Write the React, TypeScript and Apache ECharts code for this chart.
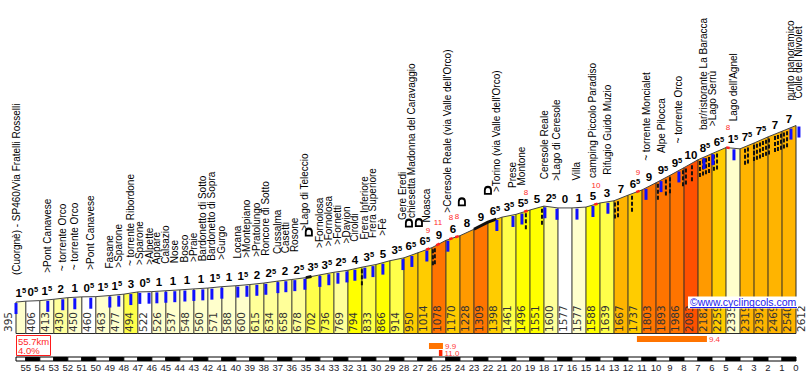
import React, { useEffect, useRef } from "react";
import * as echarts from "echarts";

// ---- DATA ----
const kmPoints = [55.7, 55, 54, 53, 52, 51, 50, 49, 48, 47, 46, 45, 44, 43, 42, 41, 40, 39, 38, 37, 36, 35, 34, 33, 32, 31, 30, 29, 28, 27, 26, 25, 24, 23, 22, 21, 20, 19, 18, 17, 16, 15, 14, 13, 12, 11, 10, 9, 8, 7, 6, 5, 4, 3, 2, 1, 0];
const altitudes = [395, 406, 413, 430, 450, 460, 463, 477, 494, 522, 526, 537, 548, 560, 571, 588, 600, 615, 634, 658, 678, 702, 736, 769, 794, 833, 866, 914, 950, 1014, 1078, 1170, 1228, 1309, 1398, 1461, 1496, 1551, 1600, 1577, 1577, 1588, 1639, 1667, 1737, 1803, 1893, 1986, 2083, 2182, 2259, 2335, 2319, 2392, 2469, 2540, 2612];
const gradientLabels = [1.5, 0.5, 1.5, 2, 1, 0.5, 1.5, 1.5, 3, 0.5, 1, 1, 1, 1, 1.5, 1, 1.5, 2, 2.5, 2, 2.5, 3.5, 3.5, 2.5, 4, 3.5, 5, 3.5, 6.5, 6.5, 9, 6, 8, 9, 6.5, 3.5, 5.5, 5, 2.5, 0, 1, 5, 3, 7, 6.5, 9, 9.5, 9.5, 10, 8.5, 6.5, 1.5, 7.5, 7.5, 7, 7];

const placeNames = [
  "(Cuorgnè) - SP460/Via Fratelli Rosselli", ">Pont Canavese", "~ torrente Orco", "~ torrente Orco", ">Pont Canavese",
  "Fasane", ">Sparone", "~ torrente Ribordone", ">Sparone", ">Alpette", "Appare", "Calsazio", "Nose", "Bosco", ">Praie",
  "Bardonetto di Sotto", "Bardonetto di Sopra", ">Gurgo", "Locana", ">Montepiano", ">Pratolungo", "Roncore di Sotto",
  "Cussalma", "Casetti", "Rosone", ">Lago di Teleccio", ">Fornolosa", ">Fornolosa", ">Fornetti", ">Davion", "Ciroldi",
  "Frera Inferiore", "Frera Superiore", ">Fè", "Gere Eredi", "chiesetta Madonna del Caravaggio", "Noasca",
  ">Ceresole Reale (via Valle dell'Orco)", ">Torino (via Valle dell'Orco)", "Prese", "Montone", "Ceresole Reale",
  ">Lago di Ceresole", "Villa", "camping Piccolo Paradiso", "Rifugio Guido Muzio", "~ torrente Moncialet", "Alpe Pilocca",
  "~ torrente Orco", "bar/ristorante La Baracca", ">Lago Serrù", "Lago dell'Agnel", "punto panoramico", "Colle del Nivolet",
];
const placeKm = [
  55.7, 53.43, 52.36, 51.5, 50.36, 49.0, 48.36, 47.5, 46.86, 46.2, 45.64, 45.0, 44.36, 43.64, 43.0, 42.36, 41.71, 41.0,
  39.86, 39.21, 38.5, 37.86, 37.0, 36.43, 35.79, 35.07, 34.0, 33.36, 32.71, 32.07, 31.5, 30.79, 30.21, 29.5, 28.07, 27.43,
  26.36, 24.86, 21.36, 20.21, 19.57, 17.93, 17.07, 15.64, 14.5, 13.43, 10.71, 9.64, 8.36, 6.57, 5.93, 4.43, 0.36, -0.21,
];

const hairpinKm = [31.0, 25.93, 25.79, 19.29, 18.14, 12.93, 12.71, 11.71, 9.86, 9.29, 9.0, 8.07, 7.86, 7.43, 6.86, 6.64, 6.43, 6.21, 5.86, 5.64, 3.64, 3.43, 3.0, 2.79, 2.57, 2.36, 2.14, 1.93, 1.5, 1.29, 1.07, 0.86, 0.64];
const tunnelFrom = [35.0, 23.0];
const tunnelTo = [34.6, 21.4];
const tunnelIconKm = [34.79, 27.64, 26.93, 23.86, 22.0];

const redMaxKm = [26.29, 25.57, 24.64, 24.21, 19.29, 14.29, 11.29, 4.86];
const redMaxValue = [9, 11, 8, 8, 8, 10, 9, 8];

const steepFrom = [11.36, 26.21, 25.5];
const steepTo = [6.36, 25.21, 25.25];
const steepValue = [9.4, 9.9, 11.0];

// ---- STYLE HELPERS ----
const tunnelIconLift = [45, 33, 30, 33, 32];
const redLift = [19, 22, 21, 20, 19, 19, 19, 20];
const nameLift = (n: string) =>
  n === ">Lago di Teleccio" ? 47 : n === "Gere Eredi" ? 38 : n.startsWith("chiesetta") ? 37 : 27;

function colorFor(g: number) {
  if (g < 1) return "#ffffff";
  if (g < 2) return "#ffffcc";
  if (g < 3) return "#ffff99";
  if (g < 4) return "#ffff4a";
  if (g < 6) return "#ffff00";
  if (g < 7) return "#ffcc00";
  if (g < 8) return "#ffb400";
  if (g < 9) return "#ff9a00";
  if (g < 10) return "#ff7400";
  return "#ff5000";
}

function altAt(km: number) {
  if (km >= kmPoints[0]) return altitudes[0];
  for (let i = 0; i < kmPoints.length - 1; i++) {
    const a = kmPoints[i], b = kmPoints[i + 1];
    if (km <= a && km >= b) {
      const t = (a - km) / (a - b);
      return altitudes[i] + t * (altitudes[i + 1] - altitudes[i]);
    }
  }
  return altitudes[altitudes.length - 1];
}

function gradText(g: number) {
  const w = Math.floor(g);
  return g - w >= 0.5 ? `{n|${w}}{s|5}` : `{n|${w}}`;
}

const FONT = "Liberation Sans";

function buildOption(): any {
  const segData = gradientLabels.map((g, i) => [kmPoints[i], kmPoints[i + 1], altitudes[i], altitudes[i + 1], g]);
  const last = segData.length - 1;
  const dist = kmPoints[0] - kmPoints[kmPoints.length - 1];
  const avg = ((altitudes[altitudes.length - 1] - altitudes[0]) / (dist * 1000)) * 100;

  const series: any[] = [];

  // segments
  series.push({
    type: "custom",
    data: segData,
    renderItem: (params: any, api: any) => {
      const k0 = api.value(0), k1 = api.value(1), a0 = api.value(2), a1 = api.value(3), g = api.value(4);
      const b0 = api.coord([k0, 0]), t0 = api.coord([k0, a0]), t1 = api.coord([k1, a1]), b1 = api.coord([k1, 0]);
      const children: any[] = [
        { type: "polygon", shape: { points: [b0, t0, t1, b1] }, style: { fill: colorFor(g) } },
        { type: "line", shape: { x1: b0[0], y1: b0[1], x2: t0[0], y2: t0[1] }, style: { stroke: "#2a2a2a", lineWidth: 1 } },
        { type: "line", shape: { x1: t0[0], y1: t0[1], x2: t1[0], y2: t1[1] }, style: { stroke: "#444", lineWidth: 1 } },
        { type: "line", shape: { x1: b0[0], y1: b0[1], x2: b1[0], y2: b1[1] }, style: { stroke: "#2a2a2a", lineWidth: 1 } },
      ];
      if (params.dataIndex === last) {
        children.push({ type: "line", shape: { x1: b1[0], y1: b1[1], x2: t1[0], y2: t1[1] }, style: { stroke: "#2a2a2a", lineWidth: 1 } });
      }
      return { type: "group", children };
    },
  });

  // hairpins
  series.push({
    type: "custom",
    data: hairpinKm.map((k) => [k]),
    renderItem: (params: any, api: any) => {
      const k = api.value(0);
      const p = api.coord([k, altAt(k)]);
      return { type: "line", shape: { x1: p[0], y1: p[1] + 2, x2: p[0], y2: p[1] + 20 }, style: { stroke: "#111", lineWidth: 2, lineDash: [4, 2] } };
    },
  });

  // tunnels on profile
  series.push({
    type: "custom",
    data: tunnelFrom.map((f, i) => [f, tunnelTo[i]]),
    renderItem: (params: any, api: any) => {
      const a = api.value(0), b = api.value(1);
      const pts: number[][] = [api.coord([a, altAt(a)])];
      kmPoints.forEach((k) => { if (k < a && k > b) pts.push(api.coord([k, altAt(k)])); });
      pts.push(api.coord([b, altAt(b)]));
      return { type: "polyline", shape: { points: pts }, style: { stroke: "#111", lineWidth: 3, fill: null } };
    },
  });

  // blue ticks + place names
  series.push({
    type: "custom",
    data: placeKm.map((k, i) => [k, i]),
    renderItem: (params: any, api: any) => {
      const k = api.value(0);
      const name = placeNames[params.dataIndex];
      const p = api.coord([k, altAt(Math.max(k, 0))]);
      return {
        type: "group",
        children: [
          { type: "line", shape: { x1: p[0], y1: p[1] + 1, x2: p[0], y2: p[1] + 12 }, style: { stroke: "#1010ff", lineWidth: 3 } },
          {
            type: "text", x: p[0], y: p[1] - nameLift(name), rotation: Math.PI / 2,
            style: { text: name, fill: "#000", fontSize: 10, fontFamily: FONT, align: "left", verticalAlign: "middle" },
          },
        ],
      };
    },
  });

  // red max markers
  series.push({
    type: "custom",
    data: redMaxKm.map((k, i) => [k, redMaxValue[i]]),
    renderItem: (params: any, api: any) => {
      const k = api.value(0), v = api.value(1);
      const pa = api.coord([k + 0.12, altAt(k + 0.12)]);
      const pb = api.coord([k - 0.12, altAt(k - 0.12)]);
      const p = api.coord([k, altAt(k)]);
      return {
        type: "group",
        children: [
          { type: "line", shape: { x1: pa[0], y1: pa[1], x2: pb[0], y2: pb[1] }, style: { stroke: "#ff2020", lineWidth: 2.5 } },
          {
            type: "text", x: p[0], y: p[1] - redLift[params.dataIndex],
            style: { text: String(v), fill: "#ff2a2a", fontSize: 8, fontFamily: FONT, align: "center", verticalAlign: "middle" },
          },
        ],
      };
    },
  });

  // tunnel icons
  series.push({
    type: "custom",
    data: tunnelIconKm.map((k) => [k]),
    renderItem: (params: any, api: any) => {
      const k = api.value(0);
      const p = api.coord([k, altAt(k)]);
      const cy = p[1] - tunnelIconLift[params.dataIndex];
      return {
        type: "path",
        shape: {
          pathData: "M0 9V4.5A4 4 0 0 1 8 4.5V9ZM1.8 7.4H6.2V4.8A2.2 2.2 0 0 0 1.8 4.8Z",
          x: p[0] - 4, y: cy - 4.5, width: 8, height: 9, layout: "cover",
        },
        style: { fill: "#000" },
      };
    },
  });

  // gradient labels
  series.push({
    type: "custom",
    data: segData,
    renderItem: (params: any, api: any) => {
      const k0 = api.value(0), k1 = api.value(1), a0 = api.value(2), a1 = api.value(3), g = api.value(4);
      const m = api.coord([(k0 + k1) / 2, (a0 + a1) / 2]);
      return {
        type: "text", x: m[0], y: m[1] - 3,
        style: {
          text: gradText(g), align: "center", verticalAlign: "bottom", fill: "#000",
          rich: {
            n: { fontSize: 11.5, fontWeight: "bold", fontFamily: FONT, fill: "#000", verticalAlign: "bottom" },
            s: { fontSize: 7.5, fontWeight: "bold", fontFamily: FONT, fill: "#000", verticalAlign: "top" },
          },
        },
      };
    },
  });

  // altitude labels
  series.push({
    type: "custom",
    data: altitudes.map((a, i) => [kmPoints[i], a]),
    renderItem: (params: any, api: any) => {
      const k = api.value(0), a = api.value(1);
      const p = api.coord([k, 0]);
      const dx = params.dataIndex === 0 ? -8 : 5;
      return {
        type: "text", x: p[0] + dx, y: p[1] - 1.5, rotation: Math.PI / 2,
        style: { text: String(a), fill: "#333", fontSize: 10.5, fontFamily: "DejaVu Sans", align: "left", verticalAlign: "middle" },
      };
    },
  });

  // km ruler
  series.push({
    type: "custom",
    data: segData.map((s, i) => [s[0], s[1], i]),
    renderItem: (params: any, api: any) => {
      const a = api.coord([api.value(0), 0]), b = api.coord([api.value(1), 0]);
      const odd = api.value(2) % 2 === 1;
      return {
        type: "rect",
        shape: { x: a[0], y: a[1] + 23.5, width: b[0] - a[0], height: 4 },
        style: { fill: odd ? "#000" : "#fff", stroke: "#000", lineWidth: 1 },
      };
    },
  });

  // steepest sections
  series.push({
    type: "custom",
    data: steepFrom.map((f, i) => [f, steepTo[i], steepValue[i], i]),
    renderItem: (params: any, api: any) => {
      const a = api.coord([api.value(0), 0]), b = api.coord([api.value(1), 0]);
      const v = api.value(2), row = api.value(3);
      const y = a[1] + 2.5 + row * 7;
      return {
        type: "group",
        children: [
          { type: "rect", shape: { x: a[0], y, width: b[0] - a[0], height: 6 }, style: { fill: v >= 11 ? "#ff2200" : "#ff7400" } },
          { type: "text", x: b[0] + 2, y: y + 3, style: { text: v.toFixed(1), fill: "#ff3a3a", fontSize: 8, fontFamily: FONT, align: "left", verticalAlign: "middle" } },
        ],
      };
    },
  });

  return {
    animation: false,
    backgroundColor: "#fff",
    grid: { left: 16, right: 14, top: 15, bottom: 40.5 },
    xAxis: {
      type: "value", min: 0, max: 55.7, inverse: true, interval: 1,
      axisLine: { show: false }, axisTick: { show: false }, splitLine: { show: false },
      axisLabel: {
        margin: 29, fontSize: 9.5, color: "#1a1a2a", fontFamily: FONT,
        formatter: (v: number) => (Number.isInteger(v) ? String(v) : ""),
      },
    },
    yAxis: { type: "value", min: 0, max: 4000, show: false },
    series,
    graphic: [
      { type: "rect", z: 100, shape: { x: 16.5, y: 335.5, width: 34, height: 20 }, style: { fill: "#fff", stroke: "#ff1a1a", lineWidth: 1 } },
      { type: "text", z: 101, x: 18, y: 341, style: { text: `${dist.toFixed(1)}km`, fill: "#ff2a2a", fontSize: 9.5, fontFamily: FONT, verticalAlign: "middle" } },
      { type: "text", z: 101, x: 18, y: 350.5, style: { text: `${avg.toFixed(1)}%`, fill: "#ff2a2a", fontSize: 9.5, fontFamily: FONT, verticalAlign: "middle" } },
      { type: "rect", z: 100, shape: { x: 688, y: 296.5, width: 110, height: 12 }, style: { fill: "#fff" } },
      { type: "text", z: 101, x: 690, y: 302, style: { text: "©www.cyclingcols.com", fill: "#1a1aee", fontSize: 10.5, fontFamily: FONT, verticalAlign: "middle" } },
      { type: "line", z: 101, shape: { x1: 690, y1: 307.5, x2: 797, y2: 307.5 }, style: { stroke: "#1a1aee", lineWidth: 1 } },
    ],
  };
}

export default function App() {
  const ref = useRef<HTMLDivElement>(null);
  useEffect(() => {
    document.body.style.margin = "0";
    const chart = echarts.init(ref.current!, undefined, { renderer: "svg" });
    chart.setOption(buildOption());
    return () => chart.dispose();
  }, []);
  return <div ref={ref} style={{ width: 810, height: 374, position: "absolute", left: 0, top: 0 }} />;
}
